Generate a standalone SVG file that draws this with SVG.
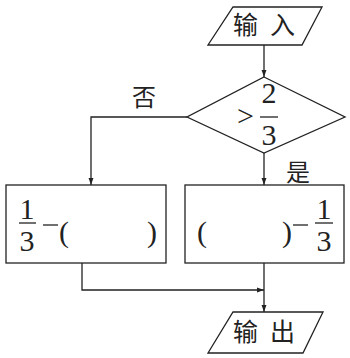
<svg xmlns="http://www.w3.org/2000/svg" width="350" height="358" viewBox="0 0 350 358">
<defs>
<marker id="arr" viewBox="0 0 10 10" refX="10" refY="5" markerWidth="7" markerHeight="7" markerUnits="userSpaceOnUse" orient="auto">
<path d="M0,1.5 L10,5 L0,8.5 Z" fill="#222"/>
</marker>
<style>
.sh{fill:#fff;stroke:#222;stroke-width:1.3}
.ln{fill:none;stroke:#222;stroke-width:1.3;marker-end:url(#arr)}
.bar{stroke:#222;stroke-width:1.3}
</style>
</defs>
<rect width="350" height="358" fill="#fff"/>
<g id="connectors">
<path class="ln" d="M264,45 L264,77"/>
<path class="ln" d="M187,117 L91,117 L91,185"/>
<path class="ln" d="M264,153 L264,185"/>
<path class="ln" d="M82,263 L82,290 L264,290"/>
<path class="ln" d="M264,263 L264,312"/>
<g font-family="Noto Sans CJK SC, sans-serif" font-size="24" fill="#222" text-anchor="middle">
<text x="144" y="106">否</text>
<text x="298" y="181">是</text>
</g>
</g>
<g id="input">
<polygon class="sh" points="233,7 322,7 302,45 208,45"/>
<text x="233" y="34" letter-spacing="12" font-family="Noto Sans CJK SC, sans-serif" font-size="25" fill="#222">输入</text>
</g>
<g font-family="Liberation Serif, serif" font-size="30" fill="#222">
<g id="decision">
<polygon class="sh" points="264,77 345,117 264,153 187,117"/>
<text x="237" y="126">&gt;</text>
<text x="269" y="103" text-anchor="middle">2</text>
<line class="bar" x1="260" y1="117" x2="278" y2="117"/>
<text x="269" y="145" text-anchor="middle">3</text>
</g>
<g id="left-box">
<rect class="sh" x="6" y="185" width="160" height="78"/>
<text x="27" y="219" text-anchor="middle">1</text>
<line class="bar" x1="19" y1="223" x2="36" y2="223"/>
<text x="27" y="251" text-anchor="middle">3</text>
<line class="bar" x1="43" y1="225" x2="58" y2="225"/>
<text x="59" y="242">(</text>
<text x="147" y="242">)</text>
</g>
<g id="right-box">
<rect class="sh" x="185" y="185" width="159" height="78"/>
<text x="197" y="242">(</text>
<text x="282" y="242">)</text>
<line class="bar" x1="293" y1="225" x2="308" y2="225"/>
<text x="324" y="219" text-anchor="middle">1</text>
<line class="bar" x1="315" y1="223" x2="333" y2="223"/>
<text x="324" y="251" text-anchor="middle">3</text>
</g>
</g>
<g id="output">
<polygon class="sh" points="233,312 323,312 303,353 208,353"/>
<text x="233" y="341" letter-spacing="12" font-family="Noto Sans CJK SC, sans-serif" font-size="25" fill="#222">输出</text>
</g>
</svg>
